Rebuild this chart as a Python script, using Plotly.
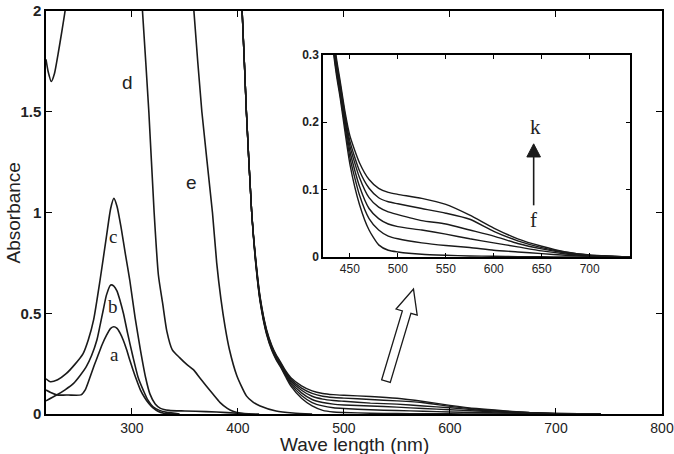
import plotly.graph_objects as go

# ---------------- data (wavelength nm, absorbance) ----------------
wl_a = [219, 224, 229, 240, 252, 256, 260, 264, 268, 272, 276, 280, 283, 286, 289, 292, 295, 298, 301, 304, 308, 312, 316, 320, 325, 330, 338]
abs_a = [0.119, 0.105, 0.095, 0.094, 0.095, 0.12, 0.175, 0.235, 0.29, 0.345, 0.39, 0.425, 0.433, 0.425, 0.40, 0.365, 0.32, 0.268, 0.22, 0.175, 0.12, 0.082, 0.052, 0.03, 0.012, 0.004, 0.0]

wl_b = [219, 229, 237, 245, 251, 257, 262, 267, 270, 273, 276, 280, 283, 286, 289, 292, 296, 301, 306, 311, 315, 320, 326, 333, 345]
abs_b = [0.065, 0.094, 0.12, 0.152, 0.19, 0.235, 0.29, 0.367, 0.44, 0.516, 0.59, 0.64, 0.635, 0.61, 0.56, 0.50, 0.40, 0.284, 0.18, 0.115, 0.07, 0.036, 0.018, 0.008, 0.0]

wl_c = [219, 223, 230, 238, 246, 254, 259, 264, 270, 276, 280, 283, 286, 290, 294, 298, 303, 308, 313, 317, 322, 327, 335, 350, 370, 390, 410]
abs_c = [0.175, 0.16, 0.17, 0.20, 0.245, 0.30, 0.37, 0.47, 0.665, 0.88, 1.02, 1.07, 1.03, 0.92, 0.79, 0.665, 0.48, 0.32, 0.18, 0.10, 0.05, 0.028, 0.018, 0.015, 0.012, 0.007, 0.0]

wl_d = [219, 221, 224, 227, 230.5, 234, 237, 242, 250, 300, 306, 310, 316, 321, 325, 329, 333, 338, 345, 352, 358, 364, 370, 377, 383, 390, 396, 402, 410, 420]
abs_d = [1.76, 1.70, 1.65, 1.69, 1.79, 1.90, 2.0, 2.2, 2.5, 2.5, 2.3, 2.0, 1.5, 1.0, 0.69, 0.55, 0.41, 0.32, 0.28, 0.245, 0.22, 0.18, 0.14, 0.095, 0.058, 0.028, 0.012, 0.005, 0.001, 0.0]

wl_e = [219, 350, 355, 358.5, 366, 376, 380, 384, 388, 392, 399, 408, 414, 421, 436, 452, 470]
abs_e = [2.6, 2.6, 2.3, 2.0, 1.5, 1.0, 0.75, 0.57, 0.43, 0.32, 0.19, 0.09, 0.06, 0.04, 0.015, 0.005, 0.0]

wl_fk = [219, 395, 400, 404, 408, 413, 417, 421, 427, 432, 436, 440, 445, 450, 460, 470, 480, 490, 500, 525, 550, 575, 600, 625, 650, 675, 700, 742]
abs_k = [2.6, 2.6, 2.3, 2.0, 1.5, 1.0, 0.76, 0.58, 0.42, 0.34, 0.295, 0.26, 0.215, 0.18, 0.14, 0.115, 0.102, 0.096, 0.093, 0.087, 0.078, 0.062, 0.043, 0.027, 0.016, 0.0075, 0.003, 0.0]
abs_j = [2.6, 2.6, 2.3, 2.0, 1.5, 1.0, 0.755, 0.575, 0.415, 0.335, 0.29, 0.255, 0.21, 0.172, 0.128, 0.102, 0.088, 0.082, 0.079, 0.072, 0.065, 0.056, 0.038, 0.024, 0.014, 0.007, 0.0025, 0.0]
abs_i = [2.6, 2.6, 2.3, 2.0, 1.5, 1.0, 0.75, 0.57, 0.41, 0.33, 0.285, 0.25, 0.205, 0.165, 0.118, 0.088, 0.074, 0.067, 0.063, 0.054, 0.049, 0.040, 0.031, 0.020, 0.012, 0.006, 0.002, 0.0]
abs_h = [2.6, 2.6, 2.3, 2.0, 1.5, 1.0, 0.745, 0.565, 0.405, 0.325, 0.28, 0.245, 0.20, 0.157, 0.105, 0.072, 0.057, 0.049, 0.045, 0.040, 0.034, 0.027, 0.021, 0.015, 0.009, 0.0045, 0.0015, 0.0]
abs_g = [2.6, 2.6, 2.3, 2.0, 1.5, 1.0, 0.74, 0.56, 0.40, 0.32, 0.275, 0.24, 0.193, 0.148, 0.092, 0.057, 0.040, 0.031, 0.027, 0.021, 0.017, 0.014, 0.010, 0.0075, 0.005, 0.0025, 0.001, 0.0]
abs_f = [2.6, 2.6, 2.3, 2.0, 1.5, 1.0, 0.735, 0.555, 0.395, 0.315, 0.27, 0.235, 0.185, 0.138, 0.078, 0.040, 0.018, 0.010, 0.0075, 0.004, 0.0025, 0.0015, 0.001, 0.0005, 0.0003, 0.0, 0.0, 0.0]

main_xticks = [300, 400, 500, 600, 700, 800]
main_yticks = [0, 0.5, 1, 1.5, 2]
main_yticktext = ["0", "0.5", "1", "1.5", "2"]
inset_xticks = [450, 500, 550, 600, 650, 700]
inset_yticks = [0, 0.1, 0.2, 0.3]
inset_yticktext = ["0", "0.1", "0.2", "0.3"]

LC = "#1a1a1a"
fig = go.Figure()

main_series = [(wl_a, abs_a), (wl_b, abs_b), (wl_c, abs_c), (wl_d, abs_d), (wl_e, abs_e)]
bundle = [abs_f, abs_g, abs_h, abs_i, abs_j, abs_k]
for xs, ys in main_series:
    fig.add_trace(go.Scatter(x=xs, y=ys, mode="lines", line=dict(color=LC, width=1.6, shape="spline", smoothing=0.6),
                             xaxis="x", yaxis="y", showlegend=False, hoverinfo="skip"))
for ys in bundle:
    fig.add_trace(go.Scatter(x=wl_fk, y=ys, mode="lines", line=dict(color=LC, width=1.4, shape="spline", smoothing=0.6),
                             xaxis="x", yaxis="y", showlegend=False, hoverinfo="skip"))
for ys in bundle:
    fig.add_trace(go.Scatter(x=wl_fk, y=ys, mode="lines", line=dict(color=LC, width=1.4, shape="spline", smoothing=0.6),
                             xaxis="x2", yaxis="y2", showlegend=False, hoverinfo="skip"))

axis_common = dict(showgrid=False, zeroline=False, showline=True, linecolor="black", linewidth=1.5,
                   ticks="inside", mirror="ticks", tickcolor="black", tickwidth=1.2, automargin=False)

fig.update_layout(
    width=674, height=454,
    margin=dict(l=46, r=12, t=11, b=40, autoexpand=False),
    paper_bgcolor="white", plot_bgcolor="white",
    xaxis=dict(domain=[0, 1], range=[219, 800], tickvals=main_xticks, ticklen=6,
               tickfont=dict(family="Liberation Sans, Arial", size=14, color="#222"), anchor="y", **axis_common),
    yaxis=dict(domain=[0, 1], range=[0, 2], tickvals=main_yticks, ticktext=main_yticktext, ticklen=6,
               tickfont=dict(family="Liberation Sans, Arial", size=15, color="#222", weight="bold"), anchor="x", **axis_common),
    xaxis2=dict(domain=[0.4497, 0.948], range=[422, 742], tickvals=inset_xticks, ticklen=4,
                tickfont=dict(family="Liberation Sans, Arial", size=12, color="#222"), anchor="y2", **axis_common),
    yaxis2=dict(domain=[0.3896, 0.891], range=[0, 0.3], tickvals=inset_yticks, ticktext=inset_yticktext, ticklen=4,
                tickfont=dict(family="Liberation Sans, Arial", size=12, color="#222", weight="bold"), anchor="x2", **axis_common),
)

# white background for inset (drawn in inset subplot layer, above main traces)
fig.add_shape(type="rect", xref="x2", yref="y2", x0=422, x1=742, y0=0, y1=0.3,
              fillcolor="white", line=dict(width=0), layer="below")

# hollow arrow in the main plot
fig.add_shape(type="path", xref="x", yref="y", layer="above",
              path="M 535.6 0.170 L 555.1 0.512 L 549.2 0.521 L 565.6 0.620 L 569.1 0.4906 L 563.2 0.4995 L 543.7 0.157 Z",
              fillcolor="white", line=dict(color=LC, width=1.3))

# inset arrow f -> k
fig.add_shape(type="line", xref="x2", yref="y2", x0=641.6, x1=641.6, y0=0.0767, y1=0.15,
              line=dict(color=LC, width=1.6))
fig.add_shape(type="path", xref="x2", yref="y2", path="M 634.5 0.1485 L 648.7 0.1485 L 641.6 0.168 Z",
              fillcolor=LC, line=dict(color=LC, width=1))

serif = "Liberation Serif, Times New Roman"
sans = "Liberation Sans, Arial"
labels = [
    ("a", 284, 0.293, "x", "y", serif, 19),
    ("b", 281.8, 0.536, "x", "y", serif, 19),
    ("c", 281.8, 0.879, "x", "y", serif, 19),
    ("d", 296.2, 1.647, "x", "y", sans, 19),
    ("e", 356.6, 1.151, "x", "y", sans, 19),
    ("k", 643, 0.193, "x2", "y2", serif, 21),
    ("f", 641.6, 0.0545, "x2", "y2", serif, 21),
]
for t, x, y, xr, yr, fam, sz in labels:
    fig.add_annotation(text=t, x=x, y=y, xref=xr, yref=yr, showarrow=False,
                       font=dict(family=fam, size=sz, color="#222"), xanchor="center", yanchor="middle")

fig.add_annotation(text="Wave length (nm)", x=0.5, y=-0.076, xref="paper", yref="paper", showarrow=False,
                   font=dict(family=sans, size=19, color="#222"), xanchor="center", yanchor="middle")
fig.add_annotation(text="Absorbance", x=-0.052, y=0.5, xref="paper", yref="paper", showarrow=False, textangle=-90,
                   font=dict(family=sans, size=19, color="#222"), xanchor="center", yanchor="middle")

fig.write_html("out.html")
